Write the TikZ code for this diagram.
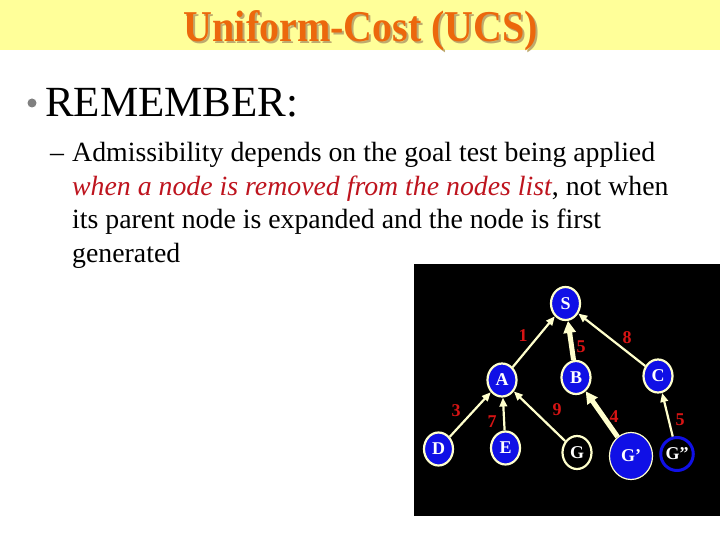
\documentclass[tikz,border=0pt]{standalone}
\usepackage{fontspec}
\setmainfont{Liberation Serif}
\usetikzlibrary{shapes.geometric,arrows.meta}
\definecolor{titlebg}{RGB}{255,255,153}
\definecolor{titlefg}{RGB}{236,104,12}
\definecolor{titlesh}{RGB}{190,170,110}
\definecolor{bulletgray}{RGB}{128,128,128}
\definecolor{redtext}{RGB}{190,20,30}
\definecolor{cream}{RGB}{255,255,204}
\definecolor{nblue}{RGB}{16,16,230}
\definecolor{lblred}{RGB}{215,20,20}
\tikzset{
  gnode/.style={ellipse, draw=cream, line width=2.2pt, fill=nblue, text=white,
    font=\bfseries\fontsize{18}{18}\selectfont, minimum width=29, minimum height=33, inner sep=0pt},
  edge/.style={draw=cream, line width=2.2pt, -{Triangle[length=9pt,width=7.5pt]}},
  thickedge/.style={draw=cream, line width=5pt, -{Triangle[length=12pt,width=12pt]}},
  wlabel/.style={text=lblred, font=\bfseries\fontsize{18}{18}\selectfont, inner sep=0pt},
  bodytext/.style={anchor=base west, inner sep=0pt, font=\fontsize{27.8}{27.8}\selectfont}
}
\newcommand{\ucstitle}{\scalebox{1}[1.1]{Uniform-Cost (UCS)}}
\begin{document}
\begin{tikzpicture}[x=1pt,y=-1pt]
\useasboundingbox (0,0) rectangle (720,540);
\fill[white] (0,0) rectangle (720,540);
% title bar
\fill[titlebg] (0,0) rectangle (720,50);
\node[anchor=base, inner sep=0pt, font=\bfseries\fontsize{40}{40}\selectfont] (title) at (361,42)
  {\makebox[0pt][l]{\hspace{2pt}\raisebox{-2pt}{\textcolor{titlesh}{\ucstitle}}}\textcolor{titlefg}{\ucstitle}};
% bullet
\fill[bulletgray] (32,103) circle (4.5);
\node[anchor=base west, inner sep=0pt, font=\fontsize{43}{43}\selectfont] (rem) at (45,117) {REMEMBER:};
% sub bullet
\node[bodytext] (dash) at (50,162) {–};
\node[bodytext] (l1) at (72,162) {Admissibility depends on the goal test being applied};
\node[bodytext] (l2) at (72,196) {\textcolor{redtext}{\itshape when a node is removed from the nodes list}, not when};
\node[bodytext] (l3) at (72,229) {its parent node is expanded and the node is first};
\node[bodytext] (l4) at (72,262) {generated};
% graph panel
\fill[black] (414,264) rectangle (720,516);
\node[gnode] (S) at (565.5,303.5) {S};
\node[gnode] (A) at (502,380) {A};
\node[gnode] (B) at (576,377.5) {B};
\node[gnode] (C) at (658,376) {C};
\node[gnode] (D) at (438.5,449) {D};
\node[gnode] (E) at (505.5,448) {E};
\node[gnode, fill=black] (G) at (577,452.5) {G};
\node[gnode, line width=1.2pt, minimum width=43, minimum height=47] (G1) at (631,456) {G’};
\node[gnode, fill=black, draw=nblue, line width=3pt] (G2) at (677,454) {G”};
\draw[edge] (A) -- (S);
\draw[thickedge] (B) -- (S);
\draw[edge] (C) -- (S);
\draw[edge] (D) -- (A);
\draw[edge] (E) -- (A);
\draw[edge] (G) -- (A);
\draw[thickedge] (G1) -- (B);
\draw[edge] (G2) -- (C);
\node[wlabel] (w1) at (523,336) {1};
\node[wlabel] (w2) at (581,347) {5};
\node[wlabel] (w3) at (627,338) {8};
\node[wlabel] (w4) at (456,411) {3};
\node[wlabel] (w5) at (492,422) {7};
\node[wlabel] (w6) at (557,410) {9};
\node[wlabel] (w7) at (614,417) {4};
\node[wlabel] (w8) at (680,420) {5};
\end{tikzpicture}
\end{document}
